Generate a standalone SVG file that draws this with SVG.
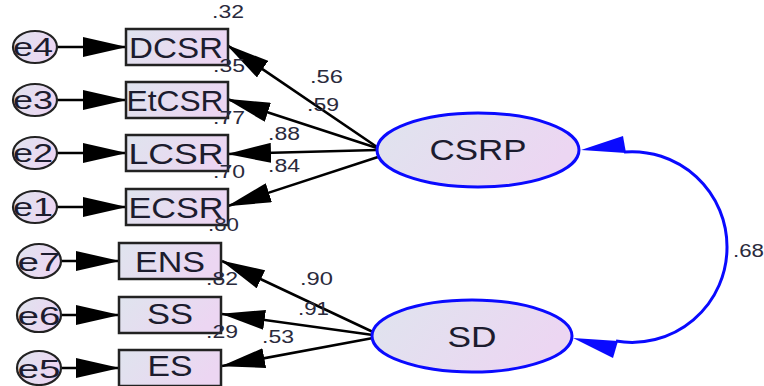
<svg xmlns="http://www.w3.org/2000/svg" width="764" height="386" viewBox="0 0 764 386">
  <defs>
    <linearGradient id="fillGrad" x1="0" y1="0" x2="1" y2="0.3">
      <stop offset="0" stop-color="#dfe4ee"/>
      <stop offset="1" stop-color="#ecd6f2"/>
    </linearGradient>
    <marker id="arrow" markerUnits="userSpaceOnUse" viewBox="0 0 44 20" refX="43" refY="10" markerWidth="44" markerHeight="20" orient="auto">
      <path d="M0 0 L44 10 L0 20 Z" fill="#000"/>
    </marker>
    <style>
      .obs { fill: url(#fillGrad); stroke: #222; stroke-width: 2.5; }
      .err { fill: url(#fillGrad); stroke: #222; stroke-width: 2.2; }
      .lat { fill: url(#fillGrad); stroke: #0a0aff; stroke-width: 3; }
      .path { stroke: #000; stroke-width: 2.6; fill: none; marker-end: url(#arrow); }
      .cov { stroke: #0a0aff; stroke-width: 3; fill: none; }
      .head { fill: #0a0aff; }
      text { font-family: "Liberation Sans", Arial, sans-serif; }
      .big { font-size: 30px; fill: #1c1c2e; text-anchor: middle; }
      .err-t { font-size: 26px; fill: #1c1c2e; text-anchor: middle; }
      .num { font-size: 18px; fill: #2a2a3c; }
    </style>
  </defs>

  <!-- regression paths and covariance -->
  <g id="connectors">
    <line class="path" x1="57" y1="47" x2="126" y2="47"/>
    <line class="path" x1="57" y1="100" x2="126" y2="100"/>
    <line class="path" x1="57" y1="153" x2="126" y2="153"/>
    <line class="path" x1="57" y1="207" x2="126" y2="207"/>
    <line class="path" x1="61" y1="261" x2="119" y2="261"/>
    <line class="path" x1="61" y1="315" x2="119" y2="315"/>
    <line class="path" x1="61" y1="368" x2="119" y2="368"/>

    <line class="path" x1="377" y1="147" x2="227" y2="45"/>
    <line class="path" x1="377" y1="148" x2="227" y2="99"/>
    <line class="path" x1="377" y1="150" x2="228" y2="154"/>
    <line class="path" x1="378" y1="157" x2="228" y2="206"/>
    <line class="path" x1="373" y1="332" x2="222" y2="261"/>
    <line class="path" x1="373" y1="335" x2="222" y2="314"/>
    <line class="path" x1="373" y1="338" x2="222" y2="366"/>

    <path class="cov" d="M624 152 A95 95 0 0 1 727 247 A95 95 0 0 1 616 341"/>
    <polygon class="head" points="581,150 623,136 626,153"/>
    <polygon class="head" points="573,338 618,341 613,358"/>
  </g>

  <!-- error terms -->
  <g id="e4"><ellipse class="err" cx="35" cy="47" rx="22" ry="16"/><text class="err-t" x="33" y="56" textLength="40" lengthAdjust="spacingAndGlyphs">e4</text></g>
  <g id="e3"><ellipse class="err" cx="35" cy="100" rx="22" ry="16"/><text class="err-t" x="33" y="109" textLength="40" lengthAdjust="spacingAndGlyphs">e3</text></g>
  <g id="e2"><ellipse class="err" cx="35" cy="153" rx="22" ry="16"/><text class="err-t" x="33" y="162" textLength="40" lengthAdjust="spacingAndGlyphs">e2</text></g>
  <g id="e1"><ellipse class="err" cx="35" cy="207" rx="22" ry="16"/><text class="err-t" x="33" y="216" textLength="40" lengthAdjust="spacingAndGlyphs">e1</text></g>
  <g id="e7"><ellipse class="err" cx="39" cy="261" rx="22" ry="17"/><text class="err-t" x="39" y="271" textLength="43" lengthAdjust="spacingAndGlyphs">e7</text></g>
  <g id="e6"><ellipse class="err" cx="39" cy="315" rx="22" ry="17"/><text class="err-t" x="39" y="325" textLength="43" lengthAdjust="spacingAndGlyphs">e6</text></g>
  <g id="e5"><ellipse class="err" cx="39" cy="368" rx="22" ry="17"/><text class="err-t" x="39" y="378" textLength="43" lengthAdjust="spacingAndGlyphs">e5</text></g>

  <!-- observed indicators with squared multiple correlations -->
  <g id="DCSR">
    <rect class="obs" x="126" y="29" width="102" height="36"/>
    <text class="big" x="176" y="58" textLength="94" lengthAdjust="spacingAndGlyphs">DCSR</text>
    <text class="num" x="212" y="18" textLength="32" lengthAdjust="spacingAndGlyphs">.32</text>
  </g>
  <g id="EtCSR">
    <rect class="obs" x="126" y="82" width="102" height="36"/>
    <text class="big" x="175" y="111" textLength="97" lengthAdjust="spacingAndGlyphs">EtCSR</text>
    <text class="num" x="213" y="72" textLength="32" lengthAdjust="spacingAndGlyphs">.35</text>
  </g>
  <g id="LCSR">
    <rect class="obs" x="126" y="135" width="102" height="36"/>
    <text class="big" x="176" y="164" textLength="95" lengthAdjust="spacingAndGlyphs">LCSR</text>
    <text class="num" x="213" y="124" textLength="32" lengthAdjust="spacingAndGlyphs">.77</text>
  </g>
  <g id="ECSR">
    <rect class="obs" x="126" y="189" width="102" height="36"/>
    <text class="big" x="176" y="218" textLength="95" lengthAdjust="spacingAndGlyphs">ECSR</text>
    <text class="num" x="213" y="178" textLength="32" lengthAdjust="spacingAndGlyphs">.70</text>
  </g>
  <g id="ENS">
    <rect class="obs" x="119" y="243" width="102" height="36"/>
    <text class="big" x="170" y="272" textLength="70" lengthAdjust="spacingAndGlyphs">ENS</text>
    <text class="num" x="208" y="231" textLength="31" lengthAdjust="spacingAndGlyphs">.80</text>
  </g>
  <g id="SS">
    <rect class="obs" x="119" y="297" width="102" height="36"/>
    <text class="big" x="170" y="324" textLength="46" lengthAdjust="spacingAndGlyphs">SS</text>
    <text class="num" x="206" y="285" textLength="32" lengthAdjust="spacingAndGlyphs">.82</text>
  </g>
  <g id="ES">
    <rect class="obs" x="119" y="350" width="102" height="36"/>
    <text class="big" x="170" y="376" textLength="45" lengthAdjust="spacingAndGlyphs">ES</text>
    <text class="num" x="206" y="338" textLength="32" lengthAdjust="spacingAndGlyphs">.29</text>
  </g>

  <!-- latent factors -->
  <g id="CSRP">
    <ellipse class="lat" cx="478" cy="150" rx="101" ry="37"/>
    <text class="big" x="478" y="160" textLength="97" lengthAdjust="spacingAndGlyphs">CSRP</text>
  </g>
  <g id="SD">
    <ellipse class="lat" cx="472" cy="336" rx="100" ry="36"/>
    <text class="big" x="472" y="347" textLength="49" lengthAdjust="spacingAndGlyphs">SD</text>
  </g>

  <!-- standardized estimates -->
  <g id="estimates">
    <text class="num" x="310" y="83" textLength="33" lengthAdjust="spacingAndGlyphs">.56</text>
    <text class="num" x="307" y="111" textLength="32" lengthAdjust="spacingAndGlyphs">.59</text>
    <text class="num" x="268" y="140" textLength="32" lengthAdjust="spacingAndGlyphs">.88</text>
    <text class="num" x="268" y="172" textLength="32" lengthAdjust="spacingAndGlyphs">.84</text>
    <text class="num" x="300" y="285" textLength="33" lengthAdjust="spacingAndGlyphs">.90</text>
    <text class="num" x="298" y="315" textLength="31" lengthAdjust="spacingAndGlyphs">.91</text>
    <text class="num" x="262" y="343" textLength="32" lengthAdjust="spacingAndGlyphs">.53</text>
    <text class="num" x="733" y="257" textLength="31" lengthAdjust="spacingAndGlyphs">.68</text>
  </g>
</svg>
